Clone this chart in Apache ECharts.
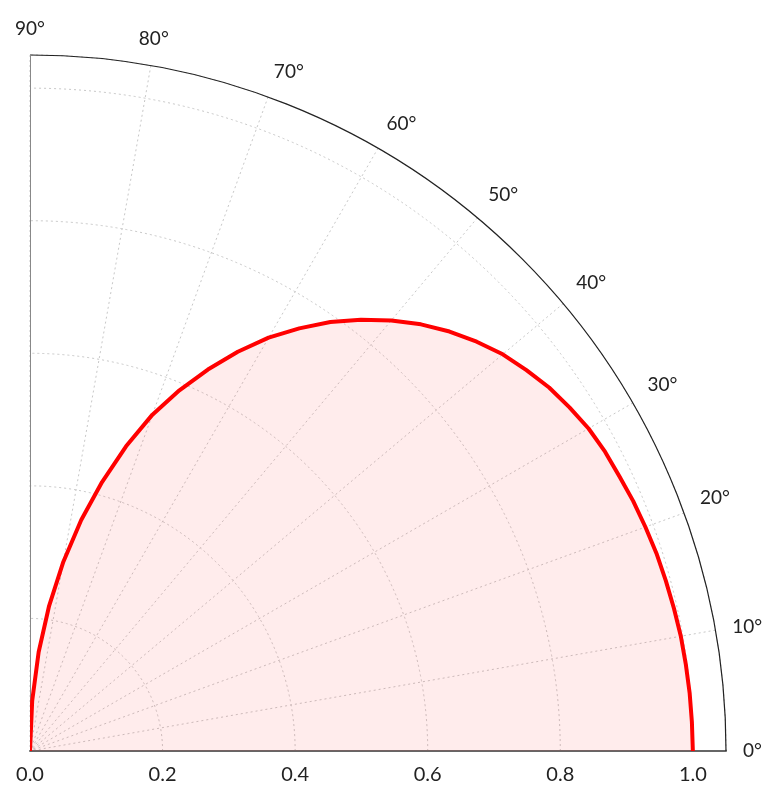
<!DOCTYPE html>
<html>
<head>
<meta charset="utf-8">
<script src="https://cdn.jsdelivr.net/npm/echarts@6/dist/echarts.min.js"></script>
<style>html,body{margin:0;padding:0;background:#fff}#c{width:768px;height:789px}</style>
</head>
<body>
<div id="c"></div>
<script>
const angles = [0,2.5,5,7.5,10,12.5,15,17.5,20,22.5,25,27.5,30,32.5,35,37.5,40,42.5,45,47.5,50,52.5,55,57.5,60,62.5,65,67.5,70,72.5,75,77.5,80,82.5,85,87.5,90];
const radii  = [1.0,0.9995,0.999,0.998,0.997,0.995,0.993,0.991,0.988,0.985,0.981,0.978,0.973,0.965,0.956,0.944,0.931,0.914,0.895,0.873,0.848,0.820,0.790,0.756,0.720,0.679,0.635,0.589,0.540,0.482,0.420,0.357,0.290,0.221,0.150,0.076,0.0];
const radialTicks = [0.0,0.2,0.4,0.6,0.8,1.0];
const angleTicks = [0,10,20,30,40,50,60,70,80,90];
const rMax = 1.05;

const chart = echarts.init(document.getElementById('c'));
const font = 'Lato, "Open Sans", sans-serif';
chart.setOption({
  backgroundColor: '#fff',
  animation: false,
  polar: { center: [30, 751], radius: [0, 696] },
  angleAxis: {
    type: 'value', min: 0, max: 90, interval: 10,
    startAngle: 0, endAngle: 90, clockwise: false,
    axisLine: { show: true, lineStyle: { color: '#222', width: 1.2 } },
    axisTick: { show: false },
    axisLabel: { show: true, margin: 17, color: '#222', fontSize: 19, fontFamily: font,
      formatter: v => angleTicks.includes(v) ? v + '°' : '' },
    splitLine: { show: true, lineStyle: { color: '#c8c8c8', type: [2, 3], width: 1 } }
  },
  radiusAxis: {
    type: 'value', min: 0, max: rMax, interval: 0.2,
    axisLine: { show: true, lineStyle: { color: '#666', width: 2 } },
    axisTick: { show: false },
    axisLabel: { show: true, color: '#222', fontSize: 20, fontFamily: font, margin: -34,
      showMaxLabel: false,
      formatter: v => radialTicks.some(t => Math.abs(t - v) < 1e-6) ? v.toFixed(1) : '' },
    splitLine: { show: true, lineStyle: { color: '#c8c8c8', type: [2, 3], width: 1 } }
  },
  series: [
    {
      type: 'line', coordinateSystem: 'polar', silent: true, symbol: 'none',
      data: [[0, 90], [rMax, 90]],
      lineStyle: { color: '#888', width: 2 }, z: 1
    },
    {
      type: 'line', coordinateSystem: 'polar', symbol: 'none', smooth: false,
      data: angles.map((a, i) => [radii[i], a]),
      lineStyle: { color: '#ff0000', width: 4, join: 'round' },
      areaStyle: { color: 'rgba(250,60,60,0.14)' },
      z: 3
    }
  ]
});
</script>
</body>
</html>
